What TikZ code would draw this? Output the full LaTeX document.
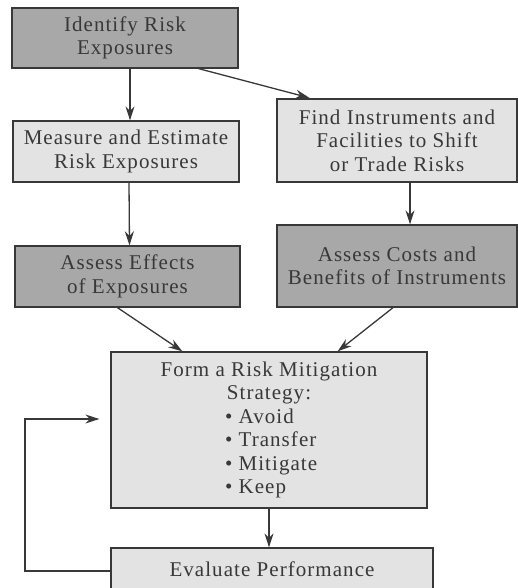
\documentclass[tikz,border=0pt]{standalone}
\usepackage{fontspec}
\setmainfont[LetterSpace=5]{Liberation Serif}
\usetikzlibrary{arrows.meta}

\definecolor{darkbox}{gray}{0.66}
\definecolor{lightbox}{gray}{0.89}
\definecolor{ink}{gray}{0.22}

\tikzstyle{box}=[draw=ink, line width=1.3pt, text=ink, align=center,
                 inner sep=0pt, font=\fontsize{21}{23.5}\selectfont]
\tikzstyle{darkstep}=[box, fill=darkbox]
\tikzstyle{lightstep}=[box, fill=lightbox]
\tikzstyle{arr}=[draw=ink, line width=1.3pt, -{Stealth[length=14pt,width=9pt]}]

% one bullet line of the strategy box, left edges aligned
\newcommand{\stratitem}[1]{\makebox[88pt][l]{\textbullet\ #1}}

\begin{document}
\begin{tikzpicture}[x=1pt,y=-1pt]
    \useasboundingbox (0,0) rectangle (518,588);

    % left column
    \node[darkstep, minimum width=226pt, minimum height=60pt] (ident) at (125,38)
        {Identify Risk\\Exposures};
    \node[lightstep, minimum width=226pt, minimum height=61pt] (measure) at (126,151.5)
        {Measure and Estimate\\Risk Exposures};
    \node[darkstep, minimum width=225pt, minimum height=61pt] (effects) at (127.5,276.5)
        {Assess Effects\\of Exposures};

    % right column
    \node[lightstep, minimum width=240pt, minimum height=83pt] (find) at (397,140.5)
        {Find Instruments and\\Facilities to Shift\\or Trade Risks};
    \node[darkstep, minimum width=240pt, minimum height=82pt] (costs) at (397,266)
        {Assess Costs and\\Benefits of Instruments};

    % strategy and evaluation
    \node[lightstep, minimum width=316pt, minimum height=156pt] (form) at (269,430)
        {Form a Risk Mitigation\\Strategy:\\\stratitem{Avoid}\\\stratitem{Transfer}\\
         \stratitem{Mitigate}\\\stratitem{Keep}};
    \node[lightstep, minimum width=322pt, minimum height=42pt] (evaluate) at (272,569)
        {Evaluate Performance};
    \coordinate (fb) at (25,419);

    \draw[arr] ([xshift=5pt]ident.south) -- ([xshift=4pt]measure.north);
    \draw[arr, shorten >=2pt] ([xshift=-40pt]ident.south east) -- ([xshift=35pt]find.north west);
    \draw[arr] ([xshift=3pt]measure.south) -- ([xshift=2pt]effects.north);
    \draw[arr] ([xshift=13pt]find.south) -- ([xshift=13pt]costs.north);
    \draw[arr] ([xshift=-10pt]effects.south) -- ([xshift=72pt]form.north west);
    \draw[arr] ([xshift=-4pt]costs.south) -- ([xshift=-90pt]form.north east);
    \draw[arr] (form.south) -- (form.south |- evaluate.north);
    % feedback loop
    \draw[arr, shorten >=11pt] ([yshift=-2pt]evaluate.west) -| (fb) -- (fb -| form.west);
\end{tikzpicture}
\end{document}
